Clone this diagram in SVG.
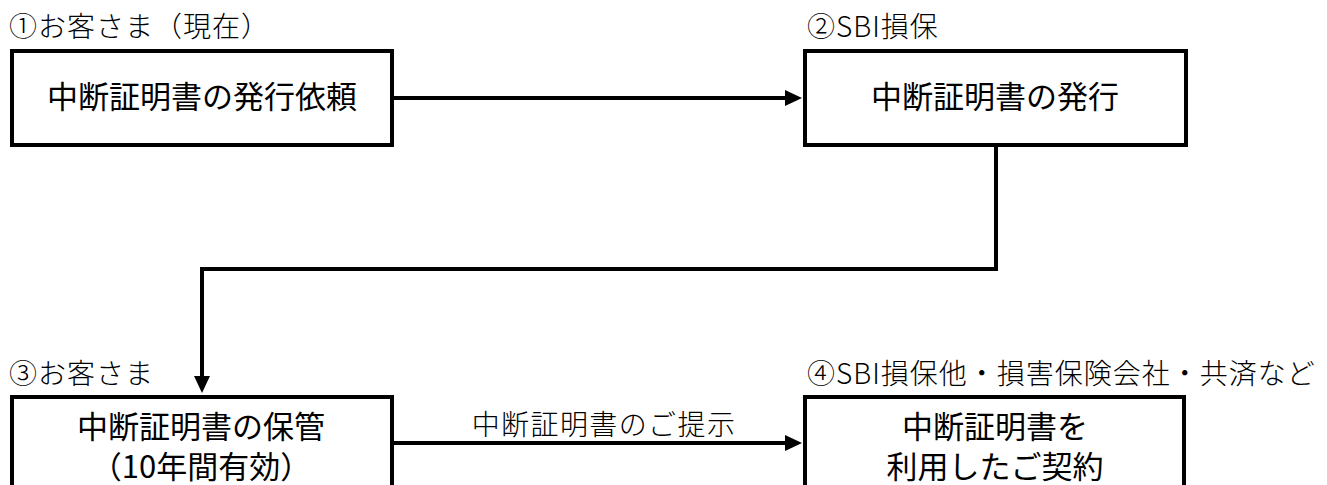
<svg xmlns="http://www.w3.org/2000/svg" width="1327" height="485" viewBox="0 0 1327 485">
  <style>
    .box { fill: #ffffff; stroke: #000000; stroke-width: 4; }
    .conn { fill: none; stroke: #000000; stroke-width: 4; }
    .label { font-family: "Noto Sans CJK JP", "Noto Sans", sans-serif; font-size: 28px; letter-spacing: 1px; fill: #000000; font-weight: 300; }
    .main { font-family: "Noto Sans CJK JP", "Noto Sans", sans-serif; font-size: 31px; fill: #000000; text-anchor: middle; font-weight: 400; }
    .edge { font-family: "Noto Sans CJK JP", "Noto Sans", sans-serif; font-size: 28px; letter-spacing: 1.4px; fill: #000000; text-anchor: middle; font-weight: 300; }
  </style>
  <defs>
    <marker id="arrow" markerUnits="userSpaceOnUse" markerWidth="17" markerHeight="16" refX="2" refY="8" orient="auto">
      <path d="M0,0 L17,8 L0,16 Z" fill="#000000"/>
    </marker>
  </defs>
  <rect width="1327" height="485" fill="#ffffff"/>

  <g id="node1">
    <text class="label" x="9" y="37">①お客さま（現在）</text>
    <rect class="box" x="12" y="51" width="380" height="94"/>
    <text class="main" x="202" y="108">中断証明書の発行依頼</text>
  </g>

  <g id="node2">
    <text class="label" x="807" y="37">②SBI損保</text>
    <rect class="box" x="805" y="51" width="381" height="94"/>
    <text class="main" x="995" y="108">中断証明書の発行</text>
  </g>

  <g id="node3">
    <text class="label" x="9" y="384">③お客さま</text>
    <rect class="box" x="12" y="397" width="380" height="110"/>
    <text class="main" x="201" y="438">中断証明書の保管</text>
    <text class="main" x="201" y="478">（10年間有効）</text>
  </g>

  <g id="node4">
    <text class="label" x="807" y="384">④SBI損保他・損害保険会社・共済など</text>
    <rect class="box" x="805" y="397" width="379" height="110"/>
    <text class="main" x="995" y="438">中断証明書を</text>
    <text class="main" x="995" y="478">利用したご契約</text>
  </g>

  <g id="connectors">
    <line class="conn" x1="392" y1="98" x2="787" y2="98" marker-end="url(#arrow)"/>
    <path class="conn" d="M996,145 V269 H202 V378" marker-end="url(#arrow)"/>
    <line class="conn" x1="392" y1="443" x2="787" y2="443" marker-end="url(#arrow)"/>
    <text class="edge" x="604" y="435">中断証明書のご提示</text>
  </g>
</svg>
